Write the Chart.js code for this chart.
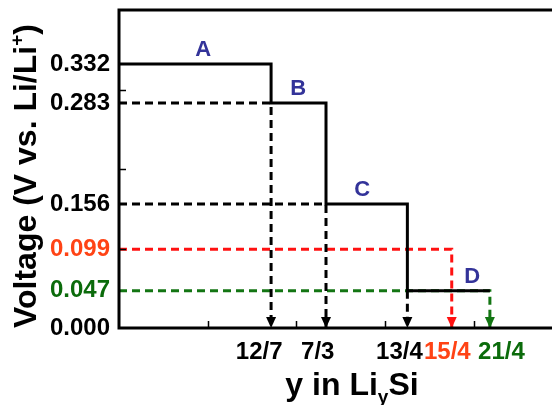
<!DOCTYPE html>
<html>
<head>
<meta charset="utf-8">
<script src="https://cdn.jsdelivr.net/npm/chart.js@4/dist/chart.umd.min.js"></script>
<style>
  html, body { margin: 0; padding: 0; background: #fff; }
  #wrap { width: 552px; height: 405px; }
</style>
</head>
<body>
<div id="wrap"><canvas id="c" width="552" height="405"></canvas></div>
<script>
// Composition y (in LiySi) where each plateau ends
const stepEnds = [1.714, 2.333, 3.25, 3.75, 4.18];
const stepLabels = ['12/7', '7/3', '13/4', '15/4', '21/4'];
const stepLabelColors = ['#000000', '#000000', '#000000', '#ff4315', '#0b6b0b'];
const stepLabelAt = [1.58, 2.24, 3.16, 3.70, 4.31];

// Voltage plateaus (V vs. Li/Li+) of phases A–D
const phases = ['A', 'B', 'C', 'D'];
const plateauV = [0.332, 0.283, 0.156, 0.047];
const phaseLabelAt = [0.95, 2.02, 2.74, 3.98];
const redV = 0.099;

// Voltage axis labels
const voltTicks = [0.000, 0.047, 0.099, 0.156, 0.283, 0.332];
const voltTickColors = ['#000000', '#0b6b0b', '#ff4315', '#000000', '#000000', '#000000'];
const minorX = [1, 2, 3, 4];
const minorY = [0.1, 0.2, 0.3];

const FONT = "'Liberation Sans', Arial, sans-serif";
const RED = '#ff1111';
const GREEN = '#137513';

// Solid staircase through the four plateaus
const ends = [stepEnds[0], stepEnds[1], stepEnds[2], stepEnds[4]];
const stair = [{ x: 0, y: plateauV[0] }];
plateauV.forEach((v, i) => {
  stair.push({ x: ends[i], y: v });
  if (i < plateauV.length - 1) stair.push({ x: ends[i], y: plateauV[i + 1] });
});

const dashed = (color, pts) => ({
  data: pts, showLine: true, borderColor: color, borderWidth: 3,
  borderDash: [8, 5], pointRadius: 0, arrow: color
});

const datasets = [
  { data: stair, showLine: true, borderColor: '#000', borderWidth: 3, pointRadius: 0 },
  dashed('#000', [{ x: 0, y: plateauV[1] }, { x: stepEnds[0], y: plateauV[1] }, { x: stepEnds[0], y: 0 }]),
  dashed('#000', [{ x: 0, y: plateauV[2] }, { x: stepEnds[1], y: plateauV[2] }, { x: stepEnds[1], y: 0 }]),
  dashed('#000', [{ x: stepEnds[2], y: plateauV[3] }, { x: stepEnds[2], y: 0 }]),
  dashed(RED, [{ x: 0, y: redV }, { x: stepEnds[3], y: redV }, { x: stepEnds[3], y: 0 }]),
  dashed(GREEN, [{ x: 0, y: plateauV[3] }, { x: stepEnds[4], y: plateauV[3] }, { x: stepEnds[4], y: 0 }])
];

// Frame, inner minor ticks, arrowheads, phase letters and axis titles
const decor = {
  id: 'decor',
  afterDatasetsDraw(chart) {
    const { ctx, chartArea: a, scales: { x, y } } = chart;
    ctx.save();
    // arrowheads at the foot of each guide line
    chart.data.datasets.forEach((ds, i) => {
      if (!ds.arrow) return;
      const pts = chart.getDatasetMeta(i).data;
      const p = pts[pts.length - 1];
      ctx.fillStyle = ds.arrow;
      ctx.beginPath();
      ctx.moveTo(p.x, p.y);
      ctx.lineTo(p.x - 5, p.y - 11);
      ctx.lineTo(p.x + 5, p.y - 11);
      ctx.closePath();
      ctx.fill();
    });
    // frame: left, top, bottom
    ctx.strokeStyle = '#000';
    ctx.lineWidth = 3;
    ctx.beginPath();
    ctx.moveTo(chart.width, a.top);
    ctx.lineTo(a.left, a.top);
    ctx.lineTo(a.left, a.bottom);
    ctx.lineTo(chart.width, a.bottom);
    ctx.stroke();
    // minor ticks pointing inward
    ctx.lineWidth = 1.5;
    ctx.beginPath();
    minorX.forEach(v => {
      const px = Math.round(x.getPixelForValue(v)) + 0.5;
      ctx.moveTo(px, a.bottom); ctx.lineTo(px, a.bottom - 7);
    });
    minorY.forEach(v => {
      const py = Math.round(y.getPixelForValue(v)) + 0.5;
      ctx.moveTo(a.left, py); ctx.lineTo(a.left + 7, py);
    });
    ctx.stroke();
    // phase letters above their plateaus
    ctx.fillStyle = '#333399';
    ctx.font = 'bold 22px ' + FONT;
    ctx.textAlign = 'center';
    ctx.textBaseline = 'middle';
    phases.forEach((t, i) => {
      ctx.fillText(t, x.getPixelForValue(phaseLabelAt[i]), y.getPixelForValue(plateauV[i]) - 14);
    });
    // x title with subscript
    ctx.fillStyle = '#000';
    ctx.textAlign = 'left';
    ctx.textBaseline = 'alphabetic';
    const big = 'bold 32px ' + FONT, small = 'bold 19px ' + FONT;
    const parts = [['y in Li', big, 0], ['y', small, 8], ['Si', big, 0]];
    let w = 0;
    parts.forEach(p => { ctx.font = p[1]; w += ctx.measureText(p[0]).width; });
    let cx = 352 - w / 2;
    parts.forEach(p => { ctx.font = p[1]; ctx.fillText(p[0], cx, 395 + p[2]); cx += ctx.measureText(p[0]).width; });
    // y title with superscript, rotated
    const yparts = [['Voltage (V vs. Li/Li', big, 0], ['+', small, -13], [')', big, 0]];
    w = 0;
    yparts.forEach(p => { ctx.font = p[1]; w += ctx.measureText(p[0]).width; });
    ctx.translate(36, 176);
    ctx.rotate(-Math.PI / 2);
    cx = -w / 2;
    yparts.forEach(p => { ctx.font = p[1]; ctx.fillText(p[0], cx, p[2]); cx += ctx.measureText(p[0]).width; });
    ctx.restore();
  }
};

const noEdgePad = s => { s.paddingTop = 0; s.paddingBottom = 0; s.paddingLeft = 0; s.paddingRight = 0; };

new Chart(document.getElementById('c'), {
  type: 'scatter',
  data: { datasets },
  options: {
    responsive: false,
    animation: false,
    devicePixelRatio: 1,
    layout: { padding: { top: 10, right: 0, left: 0, bottom: 0 } },
    plugins: { legend: { display: false }, tooltip: { enabled: false } },
    scales: {
      x: {
        type: 'linear', min: 0, max: 4.88,
        grid: { display: false, drawTicks: false },
        border: { display: false },
        afterFit(s) { s.height = 77; noEdgePad(s); },
        afterBuildTicks(s) { s.ticks = stepLabelAt.map(v => ({ value: v })); },
        ticks: {
          autoSkip: false, maxRotation: 0, padding: 10,
          font: { family: FONT, size: 24, weight: 'bold' },
          color: c => stepLabelColors[c.index],
          callback: (v, i) => stepLabels[i]
        }
      },
      y: {
        type: 'linear', min: 0, max: 0.4,
        grid: { display: false, drawTicks: false },
        border: { display: false },
        afterFit(s) { s.width = 119; noEdgePad(s); },
        afterBuildTicks(s) { s.ticks = voltTicks.map(v => ({ value: v })); },
        ticks: {
          autoSkip: false, padding: 9,
          font: { family: FONT, size: 24, weight: 'bold' },
          color: c => voltTickColors[c.index],
          callback: v => v.toFixed(3)
        }
      }
    }
  },
  plugins: [decor]
});
</script>
</body>
</html>
